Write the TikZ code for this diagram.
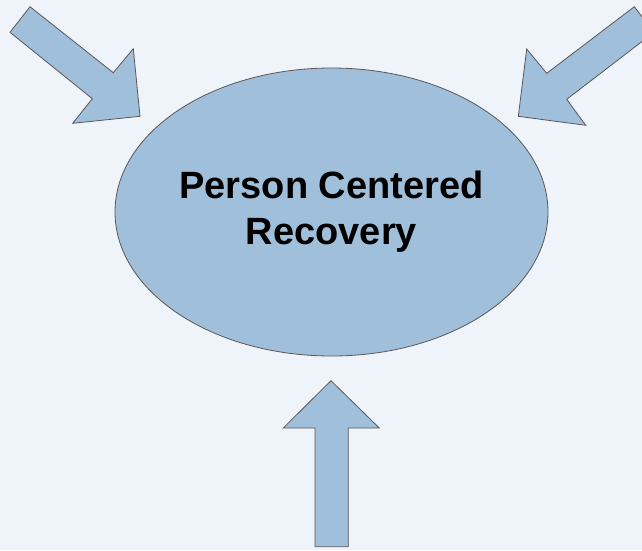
\documentclass[tikz,border=0pt]{standalone}
\usepackage{fontspec}
\setmainfont{Liberation Sans}
\usetikzlibrary{shapes.geometric}
\definecolor{bgblue}{HTML}{EFF4FA}
\definecolor{shapeblue}{HTML}{A0BFDA}
\definecolor{edgegrey}{HTML}{5E5656}
\tikzset{
  blockarrow/.style={fill=shapeblue, draw=edgegrey, line width=0.8pt, line join=miter},
  bubble/.style={ellipse, fill=shapeblue, draw=edgegrey, line width=0.8pt, inner sep=0pt,
    minimum width=433pt, minimum height=288pt, align=center,
    font=\bfseries\fontsize{38}{46}\selectfont},
}
\begin{document}
\begin{tikzpicture}[x=1pt,y=-1pt]
	\fill[bgblue](0,0)rectangle(642,550);
	\useasboundingbox(0,0)rectangle(642,550);
	\clip(0,0)rectangle(642,550);
	\node[bubble](recovery)at(331.5,212){Person Centered\\Recovery};
	% top left
	\path[blockarrow](30,6.7)--(10,32.3)--(92.3,98.7)--(72.7,123.3)--(140,116.3)
		--(133.3,48.7)--(113.3,72.7)--cycle;
	% top right
	\path[blockarrow](634.3,6.7)--(654,32.3)--(566.7,99.3)--(585.7,125.3)--(518.3,116.3)
		--(526.7,49)--(546.7,73.3)--cycle;
	% bottom
	\path[blockarrow](331,380.7)--(379.3,428)--(348.3,428)--(348.3,546.7)--(315,546.7)
		--(315,428)--(283.3,428)--cycle;
\end{tikzpicture}
\end{document}
